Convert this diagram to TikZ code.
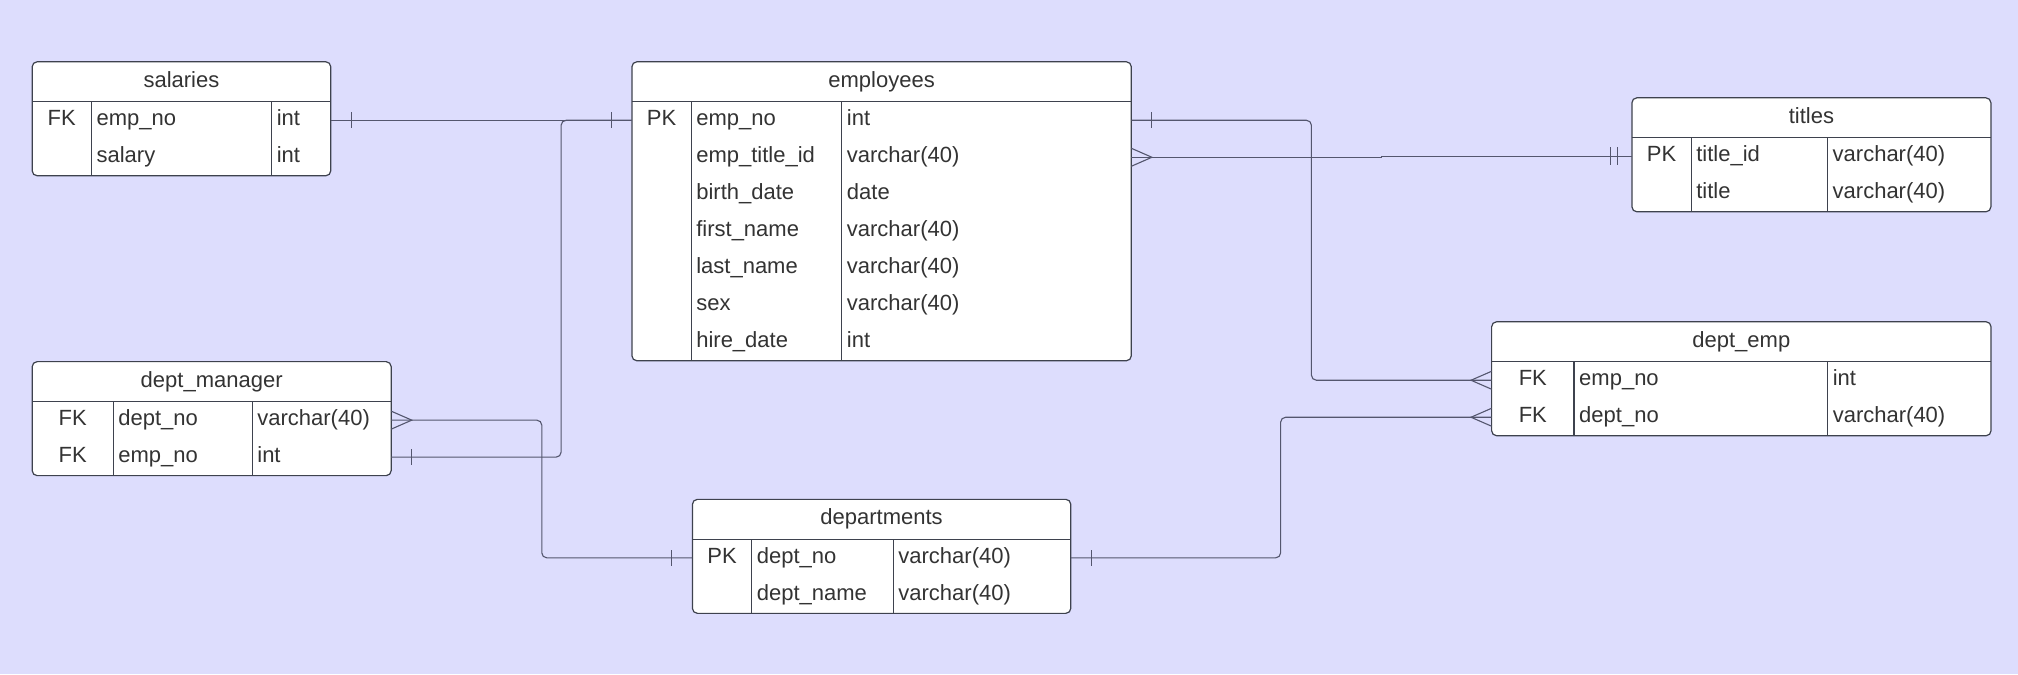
\documentclass[tikz,border=0pt]{standalone}
\usepackage{fontspec}
\setmainfont{Liberation Sans}
\usetikzlibrary{positioning,backgrounds,calc}
\definecolor{bgblue}{RGB}{221,221,253}
\definecolor{boxline}{RGB}{62,66,78}
\definecolor{txtgray}{RGB}{51,51,51}
\definecolor{linkgray}{RGB}{84,86,110}
\tikzstyle{thead}=[rectangle, inner sep=0pt, outer sep=0pt, minimum height=20pt, text height=8pt,
                   text depth=2.5pt, text=txtgray, font=\fontsize{11}{13}\selectfont]
\tikzstyle{kcell}=[rectangle, inner sep=0pt, outer sep=0pt, minimum height=18.5pt, text height=8pt,
                   text depth=2.5pt, text=txtgray, font=\fontsize{11}{13}\selectfont, align=center]
\tikzstyle{fcell}=[rectangle, inner xsep=2.6pt, inner ysep=0pt, outer sep=0pt, minimum height=18.5pt,
                   text height=8pt, text depth=2.5pt, text=txtgray,
                   font=\fontsize{11}{13}\selectfont, align=left]
\tikzstyle{tframe}=[draw=boxline, fill=white, line width=0.6pt, rounded corners=2.5pt]
\tikzstyle{tline}=[draw=boxline, line width=0.6pt]
\tikzstyle{pline}=[draw=linkgray, line width=0.55pt]
\begin{document}
\begin{tikzpicture}[x=0.6435pt, y=-0.6435pt]
\useasboundingbox (0,0) rectangle (1568,524);

% salaries
\node (SAL) [thead, minimum width=149.3pt, anchor=north west] at (25,48) {salaries};
\node (SALk1) [kcell, minimum width=29.6pt, below right=0pt and 0pt of SAL.south west] {FK};
\node (SALn1) [fcell, text width=84.9pt, right=0pt of SALk1] {emp\_no};
\node (SALt1) [fcell, text width=24.4pt, right=0pt of SALn1] {int};
\node (SALk2) [kcell, minimum width=29.6pt, below=0pt of SALk1] {};
\node (SALn2) [fcell, text width=84.9pt, right=0pt of SALk2] {salary};
\node (SALt2) [fcell, text width=24.4pt, right=0pt of SALn2] {int};
 \draw[tline] (SAL.south west) -- (SAL.south east);
 \draw[tline] (SALk1.north east) -- (SALk2.south east);
 \draw[tline] (SALn1.north east) -- (SALn2.south east);

% employees
\node (EMP) [thead, minimum width=249.7pt, anchor=north west] at (491,48) {employees};
\node (EMPk1) [kcell, minimum width=29.6pt, below right=0pt and 0pt of EMP.south west] {PK};
\node (EMPn1) [fcell, text width=70.1pt, right=0pt of EMPk1] {emp\_no};
\node (EMPt1) [fcell, text width=139.6pt, right=0pt of EMPn1] {int};
\node (EMPk2) [kcell, minimum width=29.6pt, below=0pt of EMPk1] {};
\node (EMPn2) [fcell, text width=70.1pt, right=0pt of EMPk2] {emp\_title\_id};
\node (EMPt2) [fcell, text width=139.6pt, right=0pt of EMPn2] {varchar(40)};
\node (EMPk3) [kcell, minimum width=29.6pt, below=0pt of EMPk2] {};
\node (EMPn3) [fcell, text width=70.1pt, right=0pt of EMPk3] {birth\_date};
\node (EMPt3) [fcell, text width=139.6pt, right=0pt of EMPn3] {date};
\node (EMPk4) [kcell, minimum width=29.6pt, below=0pt of EMPk3] {};
\node (EMPn4) [fcell, text width=70.1pt, right=0pt of EMPk4] {first\_name};
\node (EMPt4) [fcell, text width=139.6pt, right=0pt of EMPn4] {varchar(40)};
\node (EMPk5) [kcell, minimum width=29.6pt, below=0pt of EMPk4] {};
\node (EMPn5) [fcell, text width=70.1pt, right=0pt of EMPk5] {last\_name};
\node (EMPt5) [fcell, text width=139.6pt, right=0pt of EMPn5] {varchar(40)};
\node (EMPk6) [kcell, minimum width=29.6pt, below=0pt of EMPk5] {};
\node (EMPn6) [fcell, text width=70.1pt, right=0pt of EMPk6] {sex};
\node (EMPt6) [fcell, text width=139.6pt, right=0pt of EMPn6] {varchar(40)};
\node (EMPk7) [kcell, minimum width=29.6pt, below=0pt of EMPk6] {};
\node (EMPn7) [fcell, text width=70.1pt, right=0pt of EMPk7] {hire\_date};
\node (EMPt7) [fcell, text width=139.6pt, right=0pt of EMPn7] {int};
 \draw[tline] (EMP.south west) -- (EMP.south east);
 \draw[tline] (EMPk1.north east) -- (EMPk7.south east);
 \draw[tline] (EMPn1.north east) -- (EMPn7.south east);

% titles
\node (TIT) [thead, minimum width=179.5pt, anchor=north west] at (1268,76) {titles};
\node (TITk1) [kcell, minimum width=29.6pt, below right=0pt and 0pt of TIT.south west] {PK};
\node (TITn1) [fcell, text width=63.0pt, right=0pt of TITk1] {title\_id};
\node (TITt1) [fcell, text width=76.5pt, right=0pt of TITn1] {varchar(40)};
\node (TITk2) [kcell, minimum width=29.6pt, below=0pt of TITk1] {};
\node (TITn2) [fcell, text width=63.0pt, right=0pt of TITk2] {title};
\node (TITt2) [fcell, text width=76.5pt, right=0pt of TITn2] {varchar(40)};
 \draw[tline] (TIT.south west) -- (TIT.south east);
 \draw[tline] (TITk1.north east) -- (TITk2.south east);
 \draw[tline] (TITn1.north east) -- (TITn2.south east);

% dept_manager
\node (DM) [thead, minimum width=179.5pt, anchor=north west] at (25,281) {dept\_manager};
\node (DMk1) [kcell, minimum width=40.5pt, below right=0pt and 0pt of DM.south west] {FK};
\node (DMn1) [fcell, text width=64.3pt, right=0pt of DMk1] {dept\_no};
\node (DMt1) [fcell, text width=64.3pt, right=0pt of DMn1] {varchar(40)};
\node (DMk2) [kcell, minimum width=40.5pt, below=0pt of DMk1] {FK};
\node (DMn2) [fcell, text width=64.3pt, right=0pt of DMk2] {emp\_no};
\node (DMt2) [fcell, text width=64.3pt, right=0pt of DMn2] {int};
 \draw[tline] (DM.south west) -- (DM.south east);
 \draw[tline] (DMk1.north east) -- (DMk2.south east);
 \draw[tline] (DMn1.north east) -- (DMn2.south east);

% dept_emp
\node (DE) [thead, minimum width=249.7pt, anchor=north west] at (1159,250) {dept\_emp};
\node (DEk1) [kcell, minimum width=41.2pt, below right=0pt and 0pt of DE.south west] {FK};
\node (DEn1) [fcell, text width=121.6pt, right=0pt of DEk1] {emp\_no};
\node (DEt1) [fcell, text width=76.5pt, right=0pt of DEn1] {int};
\node (DEk2) [kcell, minimum width=41.2pt, below=0pt of DEk1] {FK};
\node (DEn2) [fcell, text width=121.6pt, right=0pt of DEk2] {dept\_no};
\node (DEt2) [fcell, text width=76.5pt, right=0pt of DEn2] {varchar(40)};
 \draw[tline] (DE.south west) -- (DE.south east);
 \draw[tline] (DEk1.north east) -- (DEk2.south east);
 \draw[tline] (DEn1.north east) -- (DEn2.south east);

% departments
\node (DEP) [thead, minimum width=189.2pt, anchor=north west] at (538,388) {departments};
\node (DEPk1) [kcell, minimum width=29.6pt, below right=0pt and 0pt of DEP.south west] {PK};
\node (DEPn1) [fcell, text width=65.6pt, right=0pt of DEPk1] {dept\_no};
\node (DEPt1) [fcell, text width=83.6pt, right=0pt of DEPn1] {varchar(40)};
\node (DEPk2) [kcell, minimum width=29.6pt, below=0pt of DEPk1] {};
\node (DEPn2) [fcell, text width=65.6pt, right=0pt of DEPk2] {dept\_name};
\node (DEPt2) [fcell, text width=83.6pt, right=0pt of DEPn2] {varchar(40)};
 \draw[tline] (DEP.south west) -- (DEP.south east);
 \draw[tline] (DEPk1.north east) -- (DEPk2.south east);
 \draw[tline] (DEPn1.north east) -- (DEPn2.south east);

% frames behind the cells
\begin{scope}[on background layer]
 \fill[bgblue] (0,0) rectangle (1568,524);
 \draw[tframe] (SAL.north west) rectangle (SALt2.south east);
 \draw[tframe] (EMP.north west) rectangle (EMPt7.south east);
 \draw[tframe] (TIT.north west) rectangle (TITt2.south east);
 \draw[tframe] (DM.north west) rectangle (DMt2.south east);
 \draw[tframe] (DE.north west) rectangle (DEt2.south east);
 \draw[tframe] (DEP.north west) rectangle (DEPt2.south east);
\end{scope}

% salaries -- employees
 \draw[pline] (SALt1.east) -| ($(SALt1.east)!0.5!(EMPk1.west)$) |- (EMPk1.west);
 \draw[pline] ([xshift=10.3pt]SALt1.east) ++(0,3.9pt) -- ++(0,-7.8pt);
 \draw[pline] ([xshift=-10.3pt]EMPk1.west) ++(0,3.9pt) -- ++(0,-7.8pt);
% dept_manager -- employees
 \draw[pline, rounded corners=2.5pt] (DMt2.east) -| ([xshift=-35.4pt]EMPk1.west) -- (EMPk1.west);
 \draw[pline] ([xshift=10.3pt]DMt2.east) ++(0,3.9pt) -- ++(0,-7.8pt);
% dept_manager -- departments
 \draw[pline, rounded corners=2.5pt] (DMt1.east) -| ([xshift=-75.3pt]DEPk1.west) -- (DEPk1.west);
 \draw[pline] ([yshift=4.5pt]DMt1.east) -- ([xshift=10.3pt]DMt1.east) -- ([yshift=-4.5pt]DMt1.east);
 \draw[pline] ([xshift=-10.3pt]DEPk1.west) ++(0,3.9pt) -- ++(0,-7.8pt);
% departments -- dept_emp
 \draw[pline, rounded corners=2.5pt] (DEPt1.east) -| ([xshift=-105.5pt]DEk2.west) -- (DEk2.west);
 \draw[pline] ([xshift=10.3pt]DEPt1.east) ++(0,3.9pt) -- ++(0,-7.8pt);
 \draw[pline] ([yshift=4.5pt]DEk2.west) -- ([xshift=-10.3pt]DEk2.west) -- ([yshift=-4.5pt]DEk2.west);
% employees -- dept_emp
 \draw[pline, rounded corners=2.5pt] (EMPt1.east) -| ([xshift=-90.1pt]DEk1.west) -- (DEk1.west);
 \draw[pline] ([xshift=10.3pt]EMPt1.east) ++(0,3.9pt) -- ++(0,-7.8pt);
 \draw[pline] ([yshift=4.5pt]DEk1.west) -- ([xshift=-10.3pt]DEk1.west) -- ([yshift=-4.5pt]DEk1.west);
% employees -- titles
 \draw[pline] (EMPt2.east) -| ($(EMPt2.east)!0.5!(TITk1.west)$) |- (TITk1.west);
 \draw[pline] ([yshift=4.5pt]EMPt2.east) -- ([xshift=10.3pt]EMPt2.east) -- ([yshift=-4.5pt]EMPt2.east);
 \draw[pline] ([xshift=-10.9pt]TITk1.west) ++(0,4.5pt) -- ++(0,-9pt);
 \draw[pline] ([xshift=-7.1pt]TITk1.west) ++(0,4.5pt) -- ++(0,-9pt);

\end{tikzpicture}
\end{document}
